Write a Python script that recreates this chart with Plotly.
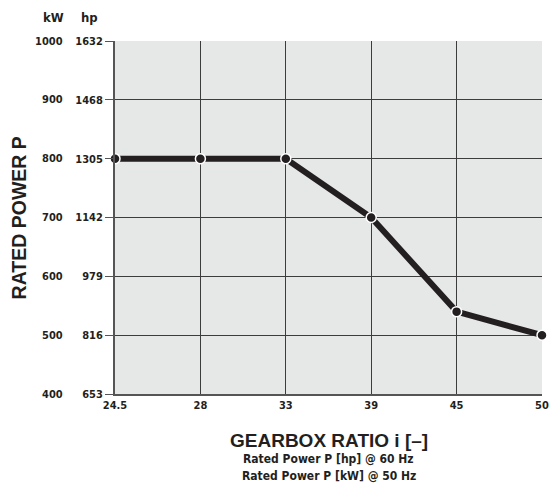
import plotly.graph_objects as go

ratios = ["24.5", "28", "33", "39", "45", "50"]
power_kw = [800, 800, 800, 700, 540, 500]
kw_ticks = [400, 500, 600, 700, 800, 900, 1000]
hp_ticks = ["653", "816", "979", "1142", "1305", "1468", "1632"]

FONT = "Liberation Sans Narrow, DejaVu Sans Condensed, Arial Narrow, Liberation Sans, sans-serif"
GRID = "#3c3c3c"
INK = "#231f20"

xs = list(range(len(ratios)))

fig = go.Figure()
fig.add_trace(go.Scatter(
    x=xs, y=power_kw, mode="lines+markers",
    line=dict(color=INK, width=6),
    marker=dict(size=10, color=INK, line=dict(color="white", width=1.5)),
    cliponaxis=False, showlegend=False, hoverinfo="skip"))

annotations = []
for v in kw_ticks:
    annotations.append(dict(x=-0.118, xref="paper", y=v, yref="y", text="<b>%d</b>" % v,
                            showarrow=False, xanchor="right", yanchor="middle",
                            font=dict(family=FONT, size=11, color=INK)))
annotations += [
    dict(x=-0.145, xref="paper", y=1.04, yref="paper", text="<b>kW</b>", showarrow=False,
         xanchor="center", yanchor="bottom", font=dict(family=FONT, size=13, color=INK)),
    dict(x=-0.060, xref="paper", y=1.04, yref="paper", text="<b>hp</b>", showarrow=False,
         xanchor="center", yanchor="bottom", font=dict(family=FONT, size=13, color=INK)),
    dict(x=-0.225, xref="paper", y=0.5, yref="paper", text="<b>RATED POWER P</b>", showarrow=False,
         textangle=-90, xanchor="center", yanchor="middle", font=dict(family="Liberation Sans, Arial, sans-serif", size=19.5, color=INK)),
    dict(x=0.5, xref="paper", y=-0.097, yref="paper", text="<b>GEARBOX RATIO i [–]</b>", showarrow=False,
         xanchor="center", yanchor="top", font=dict(family="Liberation Sans, Arial, sans-serif", size=19, color=INK)),
    dict(x=0.5, xref="paper", y=-0.16, yref="paper", text="<b>Rated Power P [hp] @ 60 Hz</b>", showarrow=False,
         xanchor="center", yanchor="top", font=dict(family=FONT, size=12, color=INK)),
    dict(x=0.5, xref="paper", y=-0.208, yref="paper", text="<b>Rated Power P [kW] @ 50 Hz</b>", showarrow=False,
         xanchor="center", yanchor="top", font=dict(family=FONT, size=12, color=INK)),
]

fig.update_layout(
    width=557, height=487,
    margin=dict(l=115, r=8, t=41, b=93),
    paper_bgcolor="white", plot_bgcolor="#e6e7e7",
    xaxis=dict(range=[0, 5], tickvals=xs, ticktext=["<b>%s</b>" % r for r in ratios],
               showgrid=True, gridcolor=GRID, gridwidth=1.3, zeroline=False,
               showline=True, linecolor="#555", linewidth=2, ticks="", ticklen=0,
               tickfont=dict(family=FONT, size=11, color=INK), fixedrange=True),
    yaxis=dict(range=[400, 1000], tickvals=kw_ticks, ticktext=["<b>%s</b>" % h for h in hp_ticks],
               showgrid=True, gridcolor=GRID, gridwidth=1.3, zeroline=False,
               showline=True, linecolor="#555", linewidth=2,
               ticks="outside", ticklen=8, tickcolor="#555", tickwidth=1.3,
               tickfont=dict(family=FONT, size=11, color=INK), fixedrange=True),
    annotations=annotations,
)

fig.write_html("out.html", config={"displayModeBar": False},
               post_script="document.body.style.margin='0';document.body.style.overflow='hidden';")
